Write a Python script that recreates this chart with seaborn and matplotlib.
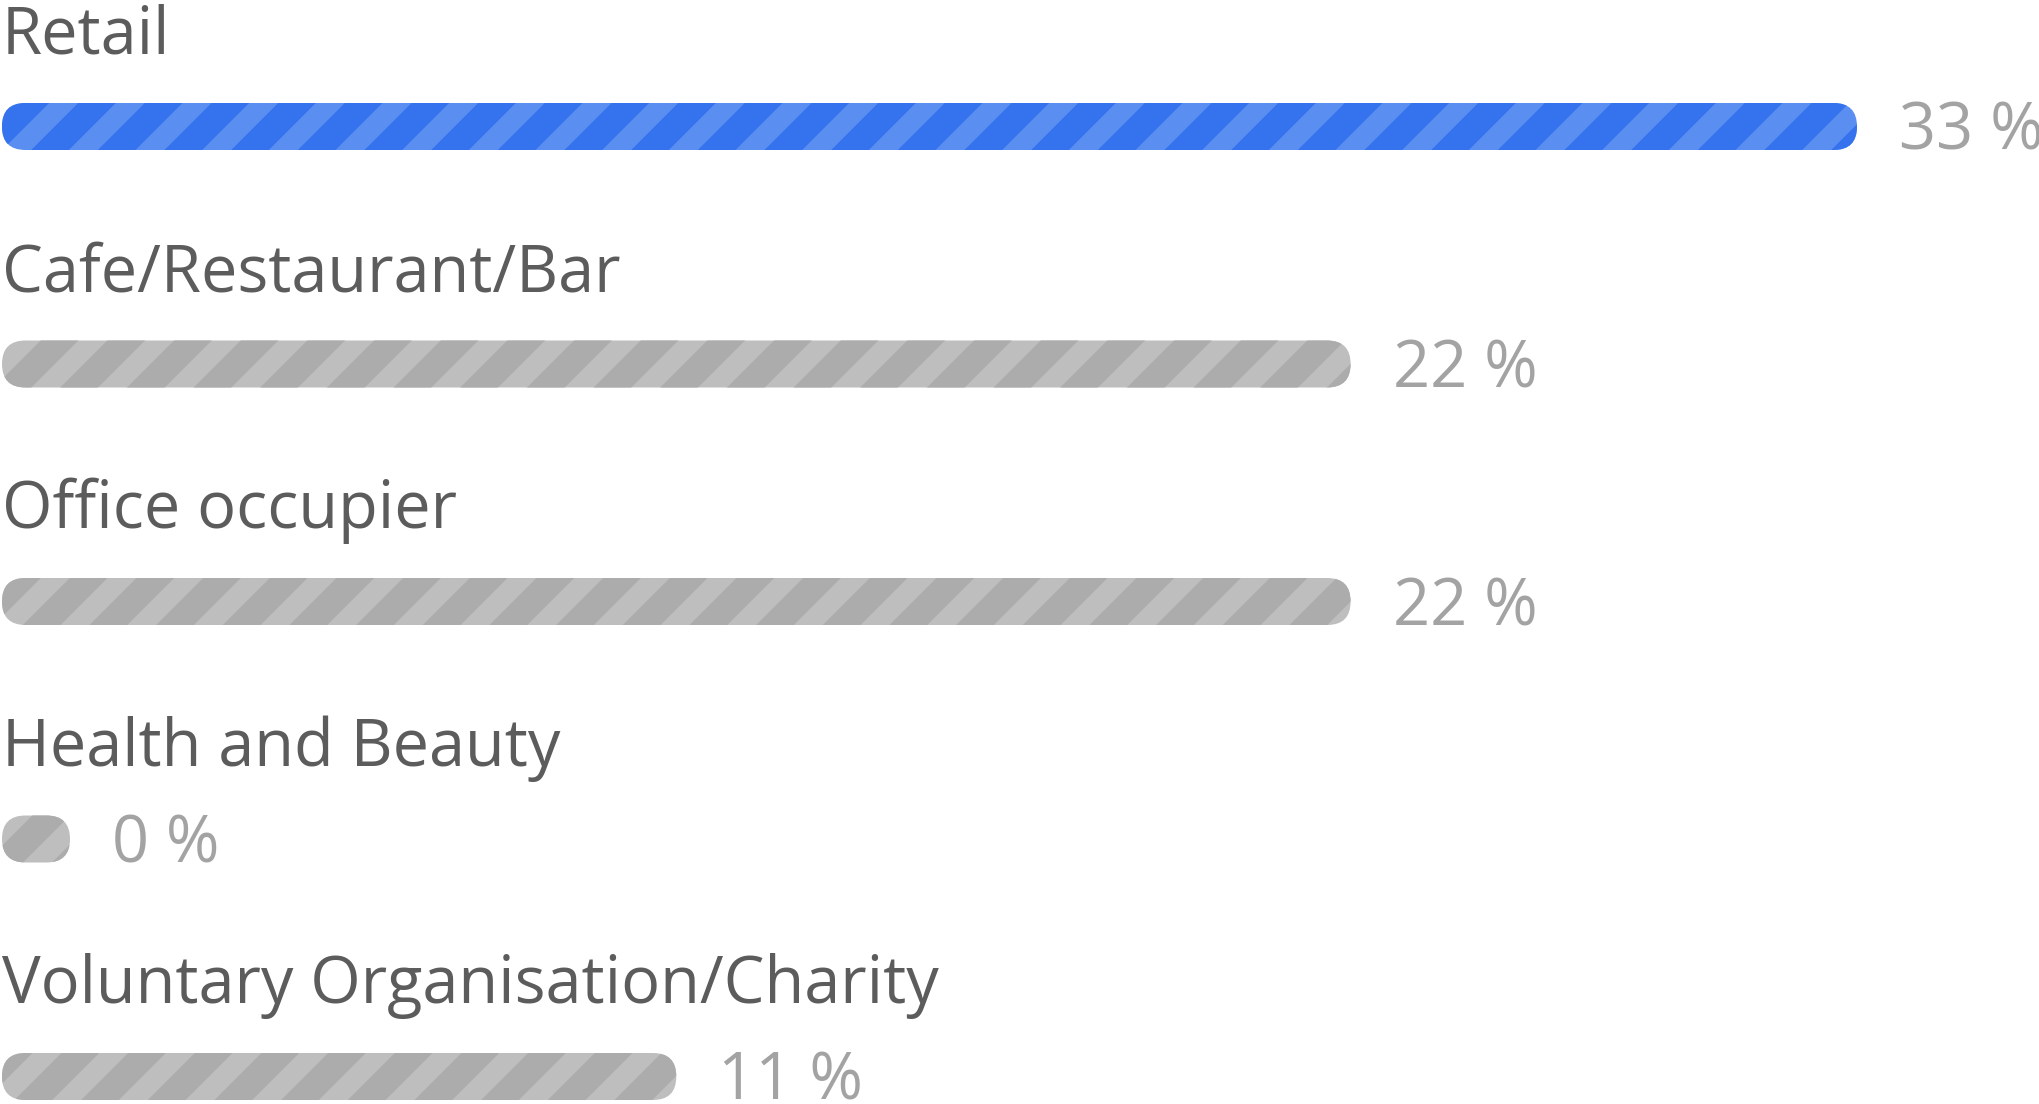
import numpy as np
import matplotlib
matplotlib.use("Agg")
import matplotlib.pyplot as plt
import seaborn as sns
from matplotlib.patches import FancyBboxPatch

categories = ["Retail", "Cafe/Restaurant/Bar", "Office occupier",
              "Health and Beauty", "Voluntary Organisation/Charity"]
shares = [33, 22, 22, 0, 11]
highlight = "Retail"

# layout in output pixels
DPI = 400
W, H = 2040, 1104
PX_PER_PCT = 61.3      # bar length per percentage point
X0 = 2                 # left edge of bars
ROW_PX = 237.5         # distance between rows
TOP_PX = 126.5         # centre of first bar from top
BAR_PX = 47            # bar thickness
MIN_LEN = 68 / PX_PER_PCT    # shortest bar drawn (0 %)
MAX_LEN = 1855 / PX_PER_PCT  # longest bar, leaves room for its label

blue = ("#5b8ef1", "#3573ee")   # light, dark stripe
grey = ("#bebebe", "#acacac")

sns.set_style("white")
plt.rcParams["font.family"] = ["Open Sans", "DejaVu Sans"]
plt.rcParams["hatch.linewidth"] = 4.8

lengths = np.clip(np.array(shares, dtype=float), MIN_LEN, MAX_LEN)

fig = plt.figure(figsize=(W / DPI, H / DPI), dpi=DPI)
ax = fig.add_axes([0, 0, 1, 1])
sns.barplot(x=lengths, y=categories, orient="h", width=BAR_PX / ROW_PX,
            color="grey", ax=ax)

# swap the plain rectangles for striped pills
r_x = (BAR_PX / 2) / PX_PER_PCT
aspect = ((BAR_PX / 2) / ROW_PX) / r_x
for cat, patch in zip(categories, list(ax.patches)):
    x, y = patch.get_x(), patch.get_y()
    w, h = patch.get_width(), patch.get_height()
    patch.remove()
    light, dark = blue if cat == highlight else grey
    pill = FancyBboxPatch((x, y), w, h,
                          boxstyle=f"round,pad=0,rounding_size={r_x}",
                          mutation_aspect=aspect, facecolor=light,
                          edgecolor=dark, linewidth=0, hatch="//")
    ax.add_patch(pill)

for i, (cat, share, length) in enumerate(zip(categories, shares, lengths)):
    ax.annotate(cat, xy=(0, i), xytext=(0, 73), textcoords="offset pixels",
                ha="left", va="baseline", fontsize=11.7, color="#5c5c5c")
    ax.annotate(f"{share} %", xy=(length, i), xytext=(42, -23.5),
                textcoords="offset pixels", ha="left", va="baseline",
                fontsize=11.7, color="#a3a3a3")

ax.set_xlim(-X0 / PX_PER_PCT, (W - X0) / PX_PER_PCT)
ax.set_ylim((H - TOP_PX) / ROW_PX, -TOP_PX / ROW_PX)
ax.axis("off")

fig.savefig("out.png", dpi=DPI)
